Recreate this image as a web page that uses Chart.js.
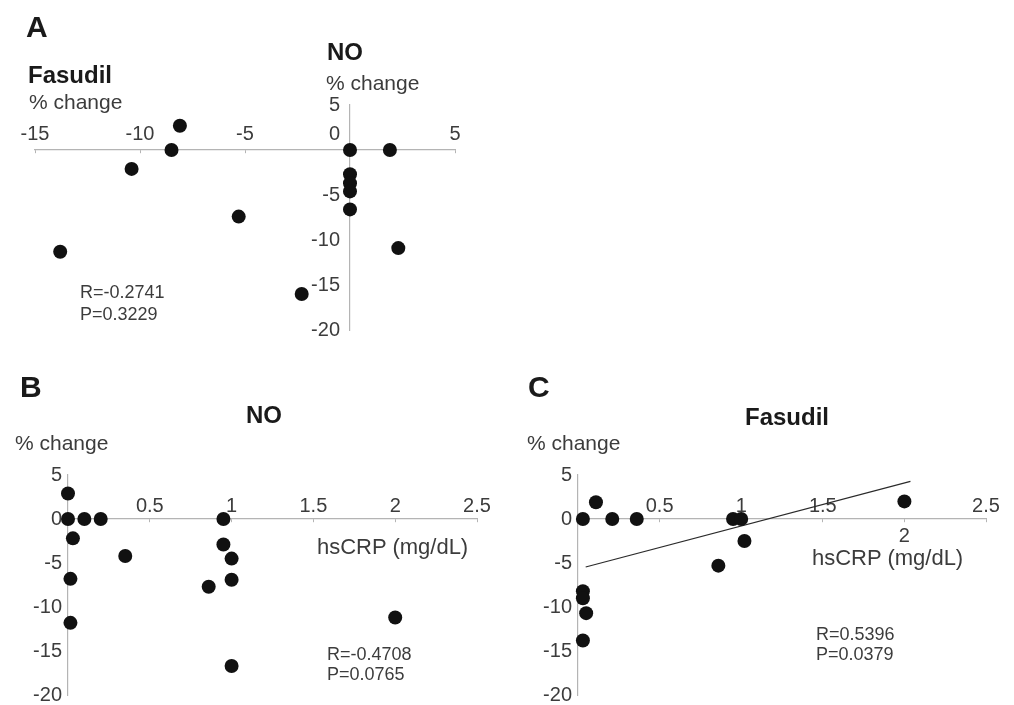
<!DOCTYPE html>
<html>
<head>
<meta charset="utf-8">
<script src="https://cdn.jsdelivr.net/npm/chart.js@4/dist/chart.umd.min.js"></script>
<style>
  html, body { margin: 0; padding: 0; background: #fff; overflow: hidden; }
  #fig { position: relative; width: 1014px; height: 705px; overflow: hidden; background: #fff; }
  #fig canvas { position: absolute; }
  .t { position: absolute; white-space: nowrap; font-family: "Liberation Sans", Arial, Helvetica, sans-serif; line-height: 1; color: #3c3c3c; }
  .b { font-weight: bold; color: #1a1a1a; }
</style>
</head>
<body>
<div id="fig">
  <canvas id="cA" width="500" height="350" style="left:0;top:0"></canvas>
  <canvas id="cB" width="505" height="365" style="left:0;top:350px"></canvas>
  <canvas id="cC" width="504" height="365" style="left:510px;top:350px"></canvas>

  <div class="t b" style="left:26px;top:12px;font-size:30px">A</div>
  <div class="t b" style="left:28px;top:63px;font-size:24px">Fasudil</div>
  <div class="t" style="left:29px;top:91px;font-size:21px">% change</div>
  <div class="t b" style="left:327px;top:40px;font-size:24px">NO</div>
  <div class="t" style="left:326px;top:72px;font-size:21px">% change</div>
  <div class="t" style="left:80px;top:283px;font-size:18px">R=-0.2741</div>
  <div class="t" style="left:80px;top:305px;font-size:18px">P=0.3229</div>

  <div class="t b" style="left:20px;top:372px;font-size:30px">B</div>
  <div class="t b" style="left:246px;top:403px;font-size:24px">NO</div>
  <div class="t" style="left:15px;top:432px;font-size:21px">% change</div>
  <div class="t" style="left:317px;top:536px;font-size:22px">hsCRP (mg/dL)</div>
  <div class="t" style="left:327px;top:645px;font-size:18px">R=-0.4708</div>
  <div class="t" style="left:327px;top:665px;font-size:18px">P=0.0765</div>

  <div class="t b" style="left:528px;top:372px;font-size:30px">C</div>
  <div class="t b" style="left:745px;top:405px;font-size:24px">Fasudil</div>
  <div class="t" style="left:527px;top:432px;font-size:21px">% change</div>
  <div class="t" style="left:812px;top:547px;font-size:22px">hsCRP (mg/dL)</div>
  <div class="t" style="left:816px;top:625px;font-size:18px">R=0.5396</div>
  <div class="t" style="left:816px;top:645px;font-size:18px">P=0.0379</div>
</div>
<script>
// ---------- data ----------
const panelA_fasudil = [-8.1, -8.5, -10.4, -13.8, -5.3, -2.3, 0, 1.9, 0, 0, 0, 0, 2.3];
const panelA_no      = [2.7, 0, -2.1, -11.3, -7.4, -16.0, 0, 0, -2.7, -3.7, -4.6, -6.6, -10.9];

const panelB_hscrp = [0, 0, 0.10, 0.20, 0.03, 0.35, 0.015, 0.015, 0.95, 0.95, 1.0, 1.0, 0.86, 1.0, 2.0];
const panelB_no    = [2.9, 0, 0, 0, -2.2, -4.2, -6.8, -11.8, 0, -2.9, -4.5, -6.9, -7.7, -16.7, -11.2];

const panelC_hscrp   = [0.03, 0.11, 0.21, 0.36, 0.95, 1.0, 1.02, 0.86, 0.03, 0.03, 0.05, 0.03, 2.0];
const panelC_fasudil = [0, 1.9, 0, 0, 0, 0, -2.5, -5.3, -8.2, -9.0, -10.7, -13.8, 2.0];

const fitC_hscrp   = [0.047, 2.037];
const fitC_fasudil = [-5.45, 4.27];

const xTicksA  = [-15, -10, -5, 0, 5];
const xLabelsA = ['-15', '-10', '-5', '', '5'];
const yTicks   = [5, 0, -5, -10, -15, -20];
const yLabels  = ['5', '0', '-5', '-10', '-15', '-20'];
const crpTicks  = [0, 0.5, 1, 1.5, 2, 2.5];
const crpLabels = ['', '0.5', '1', '1.5', '2', '2.5'];

// ---------- helpers ----------
const FONT = '"Liberation Sans", Arial, Helvetica, sans-serif';
const TICKCOL = '#3c3c3c';
const AXISCOL = '#b4b4b4';
const DOT = '#111111';
const GAP = '\u2002'; // keeps the centred y-axis labels off the axis line

function pts(xs, ys) { return xs.map((x, i) => ({ x: x, y: ys[i] })); }
function setTicks(arr) { return s => { s.ticks = arr.map(v => ({ value: v })); }; }
function dotSet(data) {
  return { type: 'scatter', data: data, pointRadius: 7, pointHoverRadius: 7,
           backgroundColor: DOT, borderWidth: 0, clip: false };
}
const common = {
  responsive: false, animation: false, events: [],
  plugins: { legend: { display: false }, tooltip: { enabled: false } }
};

// ---------- Panel A ----------
new Chart(document.getElementById('cA'), {
  type: 'scatter',
  data: { datasets: [dotSet(pts(panelA_fasudil, panelA_no))] },
  options: Object.assign({}, common, {
    layout: { padding: { left: 35, right: 45, top: 105, bottom: 20 } },
    scales: {
      x: {
        type: 'linear', min: -15, max: 5, position: { y: 0 },
        afterBuildTicks: setTicks(xTicksA),
        afterFit: s => { s.height = 0; },
        border: { color: AXISCOL, width: 1.2 },
        grid: { drawOnChartArea: false, drawTicks: true, tickLength: 3, color: AXISCOL },
        ticks: { autoSkip: false, maxRotation: 0, padding: -31, color: TICKCOL,
                 font: { family: FONT, size: 20 },
                 callback: (v, i) => xLabelsA[i] }
      },
      y: {
        type: 'linear', min: -20, max: 5, position: { x: 0 },
        afterBuildTicks: setTicks(yTicks),
        afterFit: s => { s.width = 0; },
        border: { color: AXISCOL, width: 1.2 },
        grid: { drawOnChartArea: false, drawTicks: false, color: AXISCOL },
        ticks: { autoSkip: false, padding: 8, color: TICKCOL,
                 font: { family: FONT, size: 20, lineHeight: '16px' },
                 callback: (v, i) => (v === 0 ? [yLabels[i] + GAP, '', ''] : yLabels[i] + GAP) }
      }
    }
  })
});

// ---------- Panels B and C ----------
function crpOptions(labelFn) {
  return Object.assign({}, common, {
    layout: { padding: { left: 8, right: 28, top: 125, bottom: 20 } },
    scales: {
      x: {
        type: 'linear', min: 0, max: 2.5, position: { y: 0 },
        afterBuildTicks: setTicks(crpTicks),
        afterFit: s => { s.height = 0; },
        border: { color: AXISCOL, width: 1.2 },
        grid: { drawOnChartArea: false, drawTicks: true, tickLength: 3, color: AXISCOL },
        ticks: { autoSkip: false, maxRotation: 0, padding: -22.5, color: TICKCOL,
                 font: { family: FONT, size: 20, lineHeight: '14.75px' },
                 callback: labelFn }
      },
      y: {
        type: 'linear', min: -20, max: 5, position: 'left',
        afterBuildTicks: setTicks(yTicks),
        afterFit: s => { s.width = 60; },
        border: { color: AXISCOL, width: 1.2 },
        grid: { drawOnChartArea: false, drawTicks: false, color: AXISCOL },
        ticks: { autoSkip: false, padding: 6, color: TICKCOL,
                 font: { family: FONT, size: 20 },
                 callback: (v, i) => yLabels[i] }
      }
    }
  });
}

new Chart(document.getElementById('cB'), {
  type: 'scatter',
  data: { datasets: [dotSet(pts(panelB_hscrp, panelB_no))] },
  options: crpOptions((v, i) => crpLabels[i])
});

new Chart(document.getElementById('cC'), {
  type: 'scatter',
  data: { datasets: [
    dotSet(pts(panelC_hscrp, panelC_fasudil)),
    { type: 'line', data: pts(fitC_hscrp, fitC_fasudil), showLine: true, pointRadius: 0,
      borderColor: '#2a2a2a', borderWidth: 1.2, fill: false, clip: false }
  ] },
  options: crpOptions((v, i) => (v === 2 ? ['', '', crpLabels[i]] : crpLabels[i]))
});
</script>
</body>
</html>
